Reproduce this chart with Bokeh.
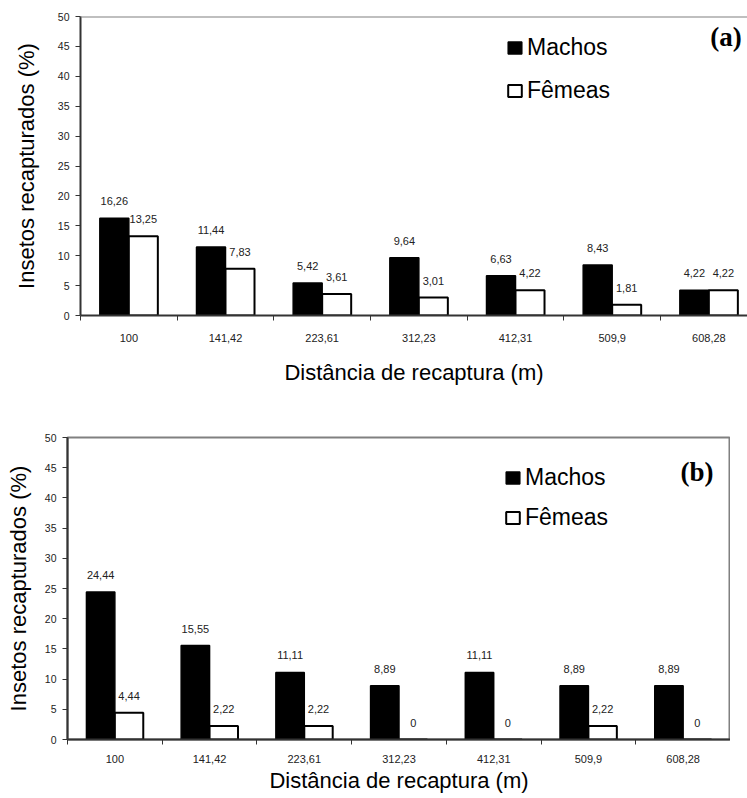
from bokeh.plotting import figure
from bokeh.models import (Range1d, FixedTicker, Legend, LegendItem, Label,
                          ColumnDataSource, Span)
from bokeh.layouts import column, row
from bokeh.transform import dodge
from bokeh.core.properties import value
from bokeh.embed import file_html
from bokeh.resources import INLINE

# ---- data ----
categories = ["100", "141,42", "223,61", "312,23", "412,31", "509,9", "608,28"]
machos_a = [16.26, 11.44, 5.42, 9.64, 6.63, 8.43, 4.22]
femeas_a = [13.25, 7.83, 3.61, 3.01, 4.22, 1.81, 4.22]
machos_b = [24.44, 15.55, 11.11, 8.89, 11.11, 8.89, 8.89]
femeas_b = [4.44, 2.22, 2.22, 0, 0, 2.22, 0]
y_ticks = [0, 5, 10, 15, 20, 25, 30, 35, 40, 45, 50]

FONT = "Liberation Sans"
AXIS_COLOR = "#333333"


def fmt(v):
    if v == 0:
        return "0"
    s = f"{v:.2f}".rstrip("0").rstrip(".")
    return s.replace(".", ",")


def make_panel(machos, femeas, tag, frame_w, frame_h, x_end, b_left, b_top,
               b_bottom, legend_loc, legend_spacing, tag_xy, box_outline,
               lbl_standoff, title_standoff, ytitle_standoff):
    n = len(categories)
    src = ColumnDataSource(dict(
        x=list(range(n)),
        machos=machos,
        femeas=femeas,
        m_lbl=[fmt(v) for v in machos],
        f_lbl=[fmt(v) for v in femeas],
    ))
    p = figure(frame_width=frame_w, frame_height=frame_h,
               x_range=Range1d(-0.5, x_end), y_range=Range1d(0, 50),
               min_border_left=b_left, min_border_right=0,
               min_border_top=b_top, min_border_bottom=b_bottom,
               output_backend="svg", toolbar_location=None)
    p.xgrid.visible = False
    p.ygrid.visible = False
    p.background_fill_color = "white"
    p.border_fill_color = "white"
    if box_outline:
        p.outline_line_color = "#808080"
        p.outline_line_width = 2
    else:
        p.outline_line_color = None
        p.add_layout(Span(location=50, dimension="width", line_color="#808080",
                          line_width=2))

    rb = p.vbar(x=dodge("x", -0.15, range=p.x_range), top="machos", width=0.3,
                source=src, fill_color="black", line_color="black", line_width=1.5)
    rw = p.vbar(x=dodge("x", 0.15, range=p.x_range), top="femeas", width=0.3,
                source=src, fill_color="white", line_color="black", line_width=2)

    p.text(x=dodge("x", -0.15, range=p.x_range), y="machos", text="m_lbl", source=src,
           text_align="center", text_baseline="bottom", y_offset=-13,
           text_font=value(FONT), text_font_size="11px", text_color="#222222")
    p.text(x=dodge("x", 0.15, range=p.x_range), y="femeas", text="f_lbl", source=src,
           text_align="center", text_baseline="bottom", y_offset=-13,
           text_font=value(FONT), text_font_size="11px", text_color="#222222")

    # x axis
    xa = p.xaxis[0]
    xa.ticker = FixedTicker(ticks=list(range(n)),
                            minor_ticks=[i - 0.5 for i in range(n + 1)])
    xa.major_label_overrides = {i: c for i, c in enumerate(categories)}
    xa.major_tick_out = 0
    xa.major_tick_in = 0
    xa.minor_tick_out = 5
    xa.minor_tick_in = 0
    xa.minor_tick_line_color = AXIS_COLOR
    xa.axis_line_color = AXIS_COLOR
    xa.axis_line_width = 2
    xa.major_label_text_font = FONT
    xa.major_label_text_font_size = "11px"
    xa.major_label_text_color = "#222222"
    xa.major_label_standoff = lbl_standoff
    xa.axis_label = "Distância de recaptura (m)"
    xa.axis_label_text_font = FONT
    xa.axis_label_text_font_size = "22px"
    xa.axis_label_text_font_style = "normal"
    xa.axis_label_text_color = "black"
    xa.axis_label_standoff = title_standoff

    # y axis
    ya = p.yaxis[0]
    ya.ticker = FixedTicker(ticks=y_ticks)
    ya.major_tick_out = 5
    ya.major_tick_in = 0
    ya.major_tick_line_color = AXIS_COLOR
    ya.minor_tick_line_color = None
    ya.axis_line_color = AXIS_COLOR
    ya.axis_line_width = 2
    ya.major_label_text_font = FONT
    ya.major_label_text_font_size = "10.5px"
    ya.major_label_text_color = "#222222"
    ya.major_label_standoff = 6
    ya.axis_label = "Insetos recapturados (%)"
    ya.axis_label_text_font = FONT
    ya.axis_label_text_font_size = "22px"
    ya.axis_label_text_font_style = "normal"
    ya.axis_label_text_color = "black"
    ya.axis_label_standoff = ytitle_standoff

    legend = Legend(items=[LegendItem(label="Machos", renderers=[rb]),
                           LegendItem(label="Fêmeas", renderers=[rw])],
                    location=legend_loc, orientation="vertical",
                    glyph_width=17, glyph_height=15, label_standoff=4,
                    label_height=22, spacing=legend_spacing, padding=0, margin=0,
                    label_text_font=FONT, label_text_font_size="23px",
                    label_text_color="black",
                    border_line_color=None, background_fill_alpha=0)
    p.add_layout(legend)

    p.add_layout(Label(x=tag_xy[0], y=tag_xy[1], text=tag, text_align="right",
                       text_baseline="middle", text_font="Liberation Serif",
                       text_font_style="bold", text_font_size="27px",
                       text_color="black"))
    return p


# panel (a): y axis at 80 px, category width ~96.7 px, right side cut at the page edge
pa = make_panel(machos_a, femeas_a, "(a)", frame_w=667, frame_h=299,
                x_end=-0.5 + 667 / 96.67, b_left=80, b_top=16, b_bottom=85,
                legend_loc=(426, 211), legend_spacing=16, tag_xy=(6.34, 46.5),
                box_outline=False, lbl_standoff=13, title_standoff=15,
                ytitle_standoff=16)
# panel (b): y axis at 67 px, framed plot area up to 730 px
pb = make_panel(machos_b, femeas_b, "(b)", frame_w=663, frame_h=302,
                x_end=6.5, b_left=67, b_top=37, b_bottom=57,
                legend_loc=(437, 208), legend_spacing=13, tag_xy=(6.32, 44.3),
                box_outline=True, lbl_standoff=10, title_standoff=2,
                ytitle_standoff=11)

# each panel in its own row so the two plot frames are not forced to align
layout = column(row(pa), row(pb), spacing=0)
open("out.html", "w").write(file_html(layout, INLINE))
